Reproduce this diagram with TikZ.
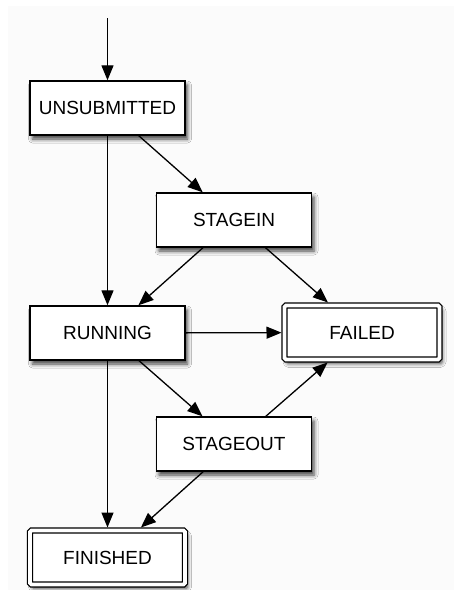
\documentclass[tikz,border=0pt]{standalone}
\usepackage{fontspec}
\setmainfont{Liberation Sans}
\usetikzlibrary{arrows.meta,shadows.blur}
\tikzset{
  state/.style={draw=black, line width=1.4pt, fill=white,
    minimum width=155pt, minimum height=54pt, inner sep=0pt,
    font=\fontsize{19}{21}\selectfont,
    blur shadow={shadow xshift=2.5pt, shadow yshift=-4pt,
      shadow blur radius=4pt, shadow opacity=75}},
  final/.style={state, double=white, double distance=3.6pt,
    line width=1.3pt, rounded corners=1.5pt, outer sep=3pt},
  trans/.style={draw=black, line width=1.3pt,
    -{Triangle[length=15pt,width=12pt]}}
}
\begin{document}
\begin{tikzpicture}[x=1pt,y=-1pt]
  \useasboundingbox (0,0) rectangle (454,590);
  \fill[white] (0,0) rectangle (454,590);
  \fill[black!1.5] (8,6) rectangle (454,590);

  \node[state] (unsub)    at (107.5,108) {UNSUBMITTED};
  \node[state] (stagein)  at (234,220)   {STAGEIN};
  \node[state] (running)  at (107.5,333) {RUNNING};
  \node[final] (failed)   at (362,332.5) {FAILED};
  \node[state] (stageout) at (234,444)   {STAGEOUT};
  \node[final] (finished) at (107.5,557.5) {FINISHED};
  \coordinate (start) at (107.5,18);

  \draw[trans] (start) -- (unsub);
  \draw[trans] (unsub) -- (stagein);
  \draw[trans] (unsub) -- (running);
  \draw[trans] (stagein) -- (running);
  \draw[trans] (stagein) -- (failed);
  \draw[trans] (running) -- (failed);
  \draw[trans] (running) -- (stageout);
  \draw[trans] (running) -- (finished);
  \draw[trans] (stageout) -- (failed);
  \draw[trans] (stageout) -- (finished);
\end{tikzpicture}
\end{document}
